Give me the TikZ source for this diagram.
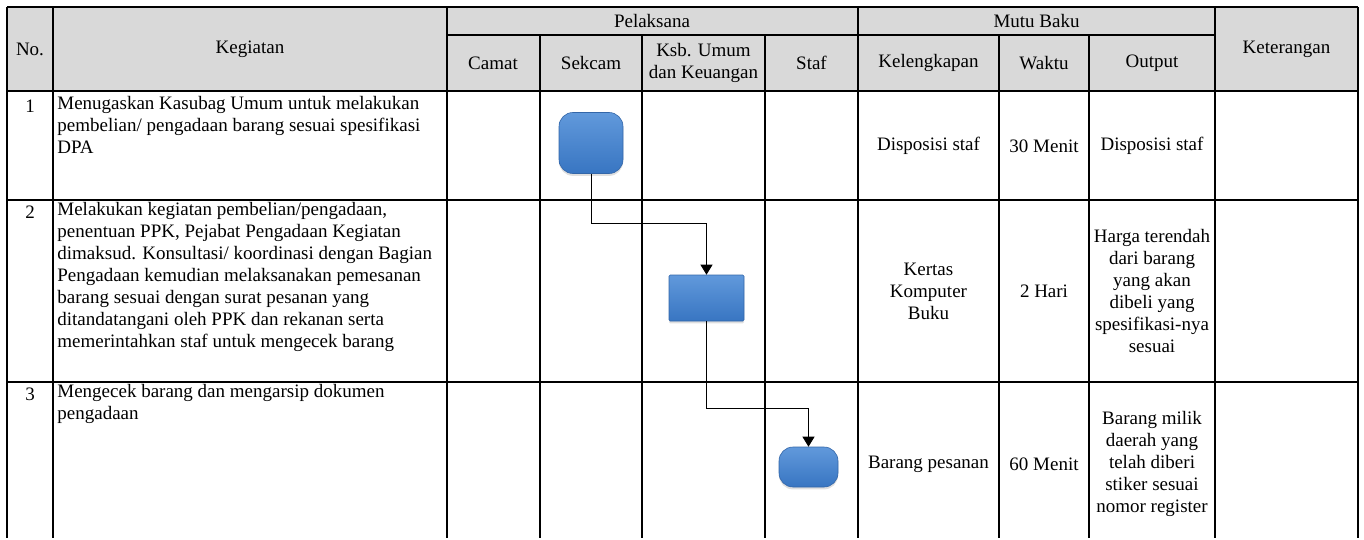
\documentclass[tikz,border=0pt]{standalone}
\usepackage{fontspec}
\setmainfont{Liberation Serif}
\usepackage{tikz}
\usetikzlibrary{
  arrows.meta,
  positioning,
  shadows
}
\usepackage{xcolor}
\definecolor{headGray}{rgb}{0.85,0.85,0.85}
\definecolor{boxTop}{rgb}{0.38,0.60,0.86}
\definecolor{boxBottom}{rgb}{0.22,0.46,0.76}
\definecolor{boxEdge}{rgb}{0.20,0.40,0.66}
\newcommand{\cellfont}{\fontsize{9.5pt}{11pt}\selectfont}
\tikzset{
  cell/.style={
    font=\cellfont,
    inner sep=0pt,
    align=center
  }
}
\tikzset{
  task/.style={
    font=\cellfont,
    inner sep=0pt,
    align=left,
    anchor=north west
  }
}
\tikzset{
  grid/.style={
    line width=1pt,
    draw=black
  }
}
\tikzset{
  terminal/.style={
    rectangle,
    rounded corners=7pt,
    top color=boxTop,
    bottom color=boxBottom,
    draw=boxEdge,
    line width=0.3pt,
    inner sep=0pt,
    drop shadow={opacity=0.25,shadow xshift=0pt,shadow yshift=-1.2pt}
  }
}
\tikzset{
  process/.style={
    terminal,
    rounded corners=0.6pt
  }
}
\tikzset{
  flow/.style={
    line width=0.5pt,
    -{Triangle[width=6pt,length=5pt]}
  }
}

\begin{document}
\begin{tikzpicture}[x=0.5pt, y=-0.5pt]
    \useasboundingbox (0,0) rectangle (1364,540);
    % header background
    \fill[headGray] (7,7) rectangle (1358,91);
    % table lines
    \draw[grid] (7,7) -- (1358,7);
    \draw[grid] (447,35) -- (1215,35);
    \foreach \y in {91,200,382}
      \draw[grid] (7,\y) -- (1358,\y);
    \foreach \x in {7,53,447,858,1215,1358}
      \draw[grid] (\x,7) -- (\x,538);
    \foreach \x in {540,642,765,999,1089}
      \draw[grid] (\x,35) -- (\x,538);

    % header
    \node[cell] (hdNo) at (30,49) {No.};
    \node[cell] (hdKegiatan) at (250,49) {Kegiatan};
    \node[cell] (hdPelaksana) at (652,21) {Pelaksana};
    \node[cell] (hdCamat) at (493,63) {Camat};
    \node[cell] (hdSekcam) at (591,63) {Sekcam};
    \node[cell] (hdKsb) at (703.5,63) {Ksb. Umum\\dan Keuangan};
    \node[cell] (hdStaf) at (811.5,63) {Staf};
    \node[cell] (hdMutu) at (1036.5,21) {Mutu Baku};
    \node[cell] (hdLengkap) at (928.5,63) {Kelengkapan};
    \node[cell] (hdWaktu) at (1044,63) {Waktu};
    \node[cell] (hdOutput) at (1152,63) {Output};
    \node[cell] (hdKet) at (1286.5,49) {Keterangan};

    % row 1
    \node[cell] (noA) at (30,106) {1};
    \node[task] (kegA) at (57,96)
      {Menugaskan Kasubag Umum untuk melakukan\\
       pembelian/ pengadaan barang sesuai spesifikasi\\
       DPA};
    \node[cell] (lengkapA) at (928.5,146) {Disposisi staf};
    \node[cell] (waktuA) at (1044,146) {30 Menit};
    \node[cell] (outA) at (1152,146) {Disposisi staf};

    % row 2
    \node[cell] (noB) at (30,212) {2};
    \node[task] (kegB) at (57,202)
      {Melakukan kegiatan pembelian/pengadaan,\\
       penentuan PPK, Pejabat Pengadaan Kegiatan\\
       dimaksud. Konsultasi/ koordinasi dengan Bagian\\
       Pengadaan kemudian melaksanakan pemesanan\\
       barang sesuai dengan surat pesanan yang\\
       ditandatangani oleh PPK dan rekanan serta\\
       memerintahkan staf untuk mengecek barang};
    \node[cell] (lengkapB) at (928.5,291) {Kertas\\Komputer\\Buku};
    \node[cell] (waktuB) at (1044,291) {2 Hari};
    \node[cell] (outB) at (1152,291)
      {Harga terendah\\dari barang\\yang akan\\dibeli yang\\spesifikasi-nya\\sesuai};

    % row 3
    \node[cell] (noC) at (30,394) {3};
    \node[task] (kegC) at (57,384)
      {Mengecek barang dan mengarsip dokumen\\pengadaan};
    \node[cell] (lengkapC) at (928.5,464) {Barang pesanan};
    \node[cell] (waktuC) at (1044,464) {60 Menit};
    \node[cell] (outC) at (1152,464)
      {Barang milik\\daerah yang\\telah diberi\\stiker sesuai\\nomor register};

    % flow shapes
    \node[terminal, minimum width=32pt, minimum height=30.5pt] (sekcam1) at (591,143) {};
    \node[process, minimum width=37.5pt, minimum height=23pt] (ksb2) at (706.5,298) {};
    \node[terminal, minimum width=29.5pt, minimum height=20pt] (staf3) at (808.5,467) {};

    \draw[flow] (sekcam1.south) -- ++(0,50) -| (ksb2.north);
    \draw[flow] (ksb2.south) -- ++(0,87) -| (staf3.north);
\end{tikzpicture}
\end{document}
